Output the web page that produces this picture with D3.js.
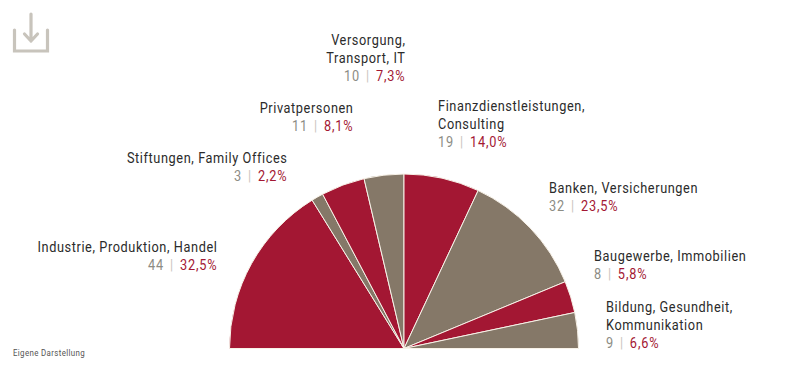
<!DOCTYPE html>
<html><head><meta charset="utf-8">
<script src="https://cdn.jsdelivr.net/npm/d3@7/dist/d3.min.js"></script>
<style>html,body{margin:0;padding:0;background:#fff}svg{display:block}text{font-family:Roboto,sans-serif}</style>
</head><body><div id="c"></div>
<script>
const categories = [["Industrie, Produktion, Handel"],["Stiftungen, Family Offices"],["Privatpersonen"],["Versorgung,","Transport, IT"],["Finanzdienstleistungen,","Consulting"],["Banken, Versicherungen"],["Baugewerbe, Immobilien"],["Bildung, Gesundheit,","Kommunikation"]];
const counts = [44,3,11,10,19,32,8,9];
const percents = ["32,5%","2,2%","8,1%","7,3%","14,0%","23,5%","5,8%","6,6%"];
const labelAnchor = [[217.5,252,"end"],[287.5,163,"end"],[353.5,113,"end"],[405.5,45,"end"],[438,111,"start"],[549,193,"start"],[594,261,"start"],[606,312,"start"]];
const RED="#a31733", TAUPE="#857868", INK="#2b2b2b", GREY="#8c8c84";
const W=808,H=369,cx=404,cy=348.5,R=174.5,LH=18,SX=0.85;
const svg=d3.select("#c").append("svg").attr("width",W).attr("height",H);
const pie=d3.pie().sort(null).startAngle(-Math.PI/2).endAngle(Math.PI/2);
const arc=d3.arc().innerRadius(0).outerRadius(R);
svg.append("g").attr("transform",`translate(${cx},${cy})`).selectAll("path").data(pie(counts)).join("path")
  .attr("d",arc).attr("fill",(d,i)=>i%2?TAUPE:RED).attr("stroke","#f8f2e8").attr("stroke-width",1);
const lab=svg.append("g").selectAll("text").data(categories).join("text")
  .attr("transform",(d,i)=>`translate(${labelAnchor[i][0]},0) scale(${SX},1)`)
  .attr("text-anchor",(d,i)=>labelAnchor[i][2]).attr("font-size",15).attr("letter-spacing",0.7);
lab.each(function(lines,i){
  const t=d3.select(this),y=labelAnchor[i][1];
  lines.forEach((l,k)=>t.append("tspan").attr("x",0).attr("y",y+k*LH).attr("fill",INK).text(l));
  const s=t.append("tspan").attr("x",0).attr("y",y+lines.length*LH).attr("letter-spacing",1);
  s.append("tspan").attr("fill",GREY).text(counts[i]);
  s.append("tspan").attr("fill","#c9c6c0").attr("dx",7).text("|");
  s.append("tspan").attr("fill",RED).attr("dx",7).text(percents[i]);
});
svg.append("text").attr("transform","translate(13,356) scale(0.88,1)").attr("font-size",9).attr("letter-spacing",0.4).attr("fill","#555").text("Eigene Darstellung");
svg.append("path").attr("d","M14.5 30V51H47.5V30M31 14V41M24.5 34L31 41L37.5 34").attr("fill","none").attr("stroke","#c8c4bc").attr("stroke-width",3.2).attr("stroke-linecap","round");
</script></body></html>
